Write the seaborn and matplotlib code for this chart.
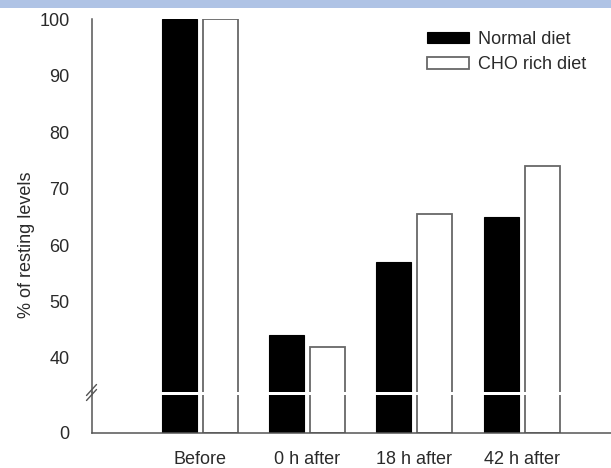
import matplotlib
matplotlib.use("Agg")
import matplotlib.pyplot as plt
from matplotlib.patches import Patch, Rectangle
from matplotlib.lines import Line2D
import pandas as pd
import seaborn as sns

# Data
categories = ["Before", "0 h after", "18 h after", "42 h after"]
normal_diet = [100, 44, 57, 65]
cho_rich_diet = [100, 42, 65.4, 74]
series_names = ["Normal diet", "CHO rich diet"]

df = pd.DataFrame({
    "time": categories * 2,
    "value": normal_diet + cho_rich_diet,
    "diet": [series_names[0]] * len(categories) + [series_names[1]] * len(categories),
})

sns.set_style("white")
plt.rcParams["font.family"] = ["Liberation Sans", "DejaVu Sans"]

W, H = 611, 468
fig = plt.figure(figsize=(W / 100, H / 100), dpi=100)

def fx(px):
    return px / W

def fy(py):
    return 1 - py / H

left_px, right_px = 91.7, 611
top_px, brk_top_px, brk_bot_px, base_px = 19, 391.5, 394.5, 432.7
px_per_unit = 5.65

ax_top = fig.add_axes([fx(left_px), fy(brk_top_px), fx(right_px - left_px), (brk_top_px - top_px) / H])
ax_bot = fig.add_axes([fx(left_px), fy(base_px), fx(right_px - left_px), (base_px - brk_bot_px) / H])

palette = {"Normal diet": "black", "CHO rich diet": "white"}
edge_gray = "#686868"
spine_col = "#555555"
text_col = "#2a2a2a"
fs = 13

for ax in (ax_top, ax_bot):
    sns.barplot(data=df, x="time", y="value", hue="diet", palette=palette,
                order=categories, hue_order=series_names,
                width=0.765, gap=0.15, legend=False, ax=ax)
    for p in ax.patches:
        fc = p.get_facecolor()
        if fc[0] > 0.5:
            p.set_edgecolor(edge_gray)
            p.set_linewidth(1.3)
        else:
            p.set_edgecolor("black")
            p.set_linewidth(0.8)
    ax.set_xlim(-1.010, 3.834)
    ax.set_xlabel("")
    ax.set_ylabel("")
    for s in ("top", "right"):
        ax.spines[s].set_visible(False)
    for s in ("left", "bottom"):
        ax.spines[s].set_color(spine_col)
        ax.spines[s].set_linewidth(1.1)
    ax.tick_params(direction="out", length=4, width=1.0, color=spine_col,
                   labelsize=fs, labelcolor=text_col, pad=12)

# Upper panel: 40-100
ax_top.set_ylim(100 - (brk_top_px - top_px) / px_per_unit, 100)
ax_top.set_yticks([40, 50, 60, 70, 80, 90, 100])
ax_top.spines["bottom"].set_visible(False)
ax_top.tick_params(axis="x", bottom=False, labelbottom=False)

# Lower panel: baseline
ax_bot.set_ylim(0, (base_px - brk_bot_px) / px_per_unit)
ax_bot.set_yticks([0])
ax_bot.set_xticks(range(len(categories)))
ax_bot.set_xticklabels(categories)
ax_bot.tick_params(axis="x", length=5, pad=8)

# Continuous y-axis line through the break, with break marks
fig.add_artist(Line2D([fx(left_px), fx(left_px)], [fy(brk_bot_px), fy(brk_top_px)],
                      color=spine_col, lw=1.1))
for dy in (-2.5, 2.5):
    fig.add_artist(Line2D([fx(86.5), fx(96.5)], [fy(398 + dy), fy(387 + dy)],
                          color=spine_col, lw=1.0))

# Y label
fig.text(fx(27), fy(245), "% of resting levels", rotation=90, ha="center", va="center",
         fontsize=fs, color=text_col)

# Legend
handles = [Patch(facecolor="black", edgecolor="black", linewidth=0.8),
           Patch(facecolor="white", edgecolor=edge_gray, linewidth=1.3)]
fig.legend(handles, series_names, loc="upper left",
           bbox_to_anchor=(fx(427), fy(31)), bbox_transform=fig.transFigure,
           frameon=False, fontsize=fs, handlelength=2.33, handleheight=0.6,
           handletextpad=0.5, labelspacing=0.46, borderpad=0, borderaxespad=0,
           labelcolor=text_col)

# Header strip
fig.add_artist(Rectangle((0, fy(8)), 1, 8 / H, transform=fig.transFigure,
                         facecolor="#afc3e5", edgecolor="none"))

fig.savefig("out.png", dpi=100)
